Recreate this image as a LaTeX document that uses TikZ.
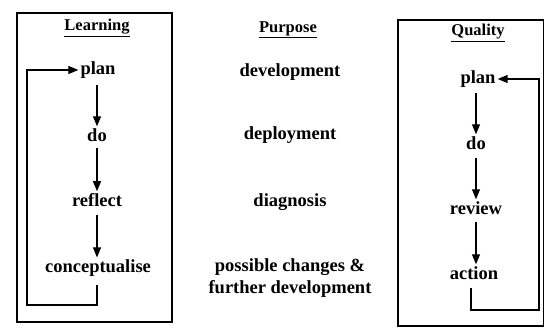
\documentclass[tikz,border=0pt]{standalone}
\usepackage{fontspec}
\setmainfont{Liberation Serif}
\usetikzlibrary{arrows.meta}
\begin{document}
\begin{tikzpicture}[x=1pt,y=-1pt,
  lbl/.style={font=\fontsize{18.5}{24}\selectfont\bfseries, inner sep=2pt},
  ttl/.style={font=\fontsize{16.5}{18}\selectfont\bfseries, inner sep=1pt},
  frame/.style={draw, line width=1.2pt},
  arr/.style={draw, line width=1.1pt, -{Triangle[length=10pt,width=8pt]}},
  ln/.style={draw, line width=1.1pt}]
\useasboundingbox (0,0) rectangle (544,332);
% left box
\draw[frame] (17,13) rectangle (172,322);
\node[ttl] (Lt) at (97,28) {\underline{Learning}};
\node[lbl] (Lplan) at (98,70) {plan};
\node[lbl] (Ldo) at (97,135) {do};
\node[lbl] (Lref) at (97,200) {reflect};
\node[lbl] (Lcon) at (98,268) {conceptualise};
\draw[arr] (Lplan.south -| 97,0) ++(0,4) -- (Ldo.north -| 97,0);
\draw[arr] (Ldo.south -| 97,0) ++(0,4) -- (Lref.north -| 97,0);
\draw[arr] (Lref.south -| 97,0) ++(0,6) -- (Lcon.north -| 97,0);
\coordinate (La) at (97,305);
\coordinate (Lb) at (27,305);
\draw[arr] (Lcon.south -| 97,0) ++(0,6) -- (La) -- (Lb) |- (Lplan.west);
% middle column
\node[ttl] (Pt) at (288,30) {\underline{Purpose}};
\node[lbl] (P1) at (290,72) {development};
\node[lbl] (P2) at (290,135) {deployment};
\node[lbl] (P3) at (290,202) {diagnosis};
\node[lbl, align=center] (P4) at (290,278) {possible changes \&\\[-2pt]further development};
% right box
\draw[frame] (398,20) rectangle (543.4,326);
\node[ttl] (Qt) at (478,33) {\underline{Quality}};
\node[lbl] (Rplan) at (478,79) {plan};
\node[lbl] (Rdo) at (476,143) {do};
\node[lbl] (Rrev) at (476,208) {review};
\node[lbl] (Ract) at (474,273) {action};
\draw[arr] (Rplan.south -| 476,0) ++(0,3) -- (Rdo.north -| 476,0);
\draw[arr] (Rdo.south -| 476,0) ++(0,6) -- (Rrev.north -| 476,0);
\draw[arr] (Rrev.south -| 476,0) ++(0,5) -- (Ract.north -| 476,0);
\coordinate (Ra) at (471,310);
\coordinate (Rb) at (539,310);
\draw[arr] (Ract.south -| 471,0) ++(0,6) -- (Ra) -- (Rb) |- (Rplan.east);
\end{tikzpicture}
\end{document}
